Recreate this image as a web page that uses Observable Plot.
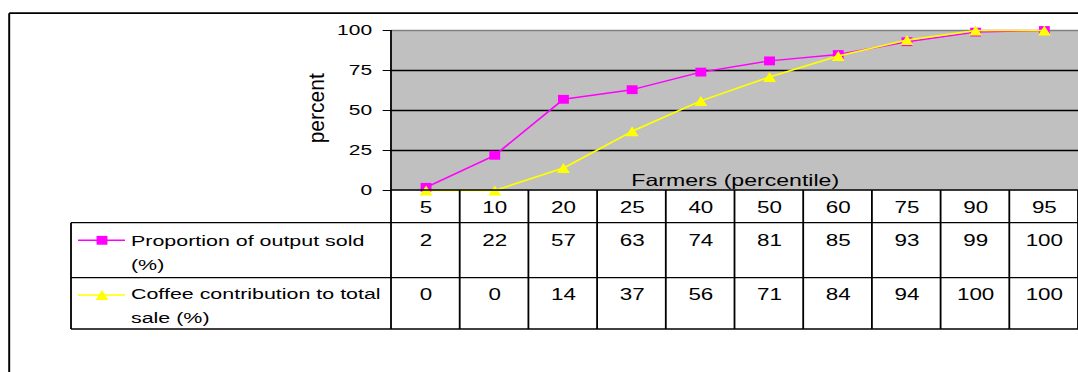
<!DOCTYPE html>
<html>
<head>
<meta charset="utf-8">
<script src="https://cdn.jsdelivr.net/npm/d3@7"></script>
<script src="https://cdn.jsdelivr.net/npm/@observablehq/plot@0.6"></script>
<style>
  body { margin: 0; background: #fff; }
  #chart { position: relative; width: 1078px; height: 372px; overflow: hidden; background: #fff; }
</style>
</head>
<body>
<div id="chart"></div>
<script>
// ---- data ----
const percentiles = ["5", "10", "20", "25", "40", "50", "60", "75", "90", "95"];
const outputSold = [2, 22, 57, 63, 74, 81, 85, 93, 99, 100];
const coffeeShare = [0, 0, 14, 37, 56, 71, 84, 94, 100, 100];
const yTicks = [0, 25, 50, 75, 100];
const seriesLabels = ["Proportion of output sold\n(%)", "Coffee contribution to total\nsale (%)"];
const seriesColors = ["#ff00ff", "#ffff00"];
const xTitle = "Farmers (percentile)";
const yTitle = "percent";

// ---- layout (the whole picture is horizontally stretched, like the original) ----
const SX = 1.4;
const W = 1078 / SX;
const H = 372;
const FONT = "'Liberation Sans', Arial, Helvetica, sans-serif";

const rows = percentiles.map((p, i) => ({p, sold: outputSold[i], coffee: coffeeShare[i]}));

const squareSym = {draw(ctx, size) { const r = Math.sqrt(size / Math.PI); const w = r * 0.81, h = r * 0.92; ctx.moveTo(-w, -h); ctx.lineTo(w, -h); ctx.lineTo(w, h); ctx.lineTo(-w, h); ctx.closePath(); }};
const triangleSym = {draw(ctx, size) { const r = Math.sqrt(size / Math.PI); const w = r * 0.92, h = r; ctx.moveTo(0, -h); ctx.lineTo(w, h); ctx.lineTo(-w, h); ctx.closePath(); }};

const plot = Plot.plot({
  width: W,
  height: H,
  marginLeft: 391 / SX,
  marginRight: 0,
  marginTop: 30,
  marginBottom: 182,
  style: {fontFamily: FONT, fontSize: "15px", color: "#000", background: "transparent", overflow: "visible", transform: `scaleX(${SX})`, transformOrigin: "0 0", maxWidth: "none"},
  x: {type: "band", domain: percentiles, padding: 0, axis: null, round: false},
  y: {domain: [0, 100], ticks: yTicks, tickSize: 6, tickPadding: 8, label: null, tickFormat: d => String(d)},
  marks: [
    Plot.frame({fill: "#c0c0c0", stroke: "none"}),
    Plot.ruleY(yTicks.filter(d => d > 0 && d < 100), {stroke: "#000", strokeWidth: 1.3}),
    Plot.ruleY([100], {stroke: "#808080", strokeWidth: 1.3}),
    Plot.text([xTitle], {frameAnchor: "bottom", lineAnchor: "bottom", dy: -4.5, fontSize: 16.5, fill: "#000"}),
    Plot.line(rows, {x: "p", y: "sold", stroke: seriesColors[0], strokeWidth: 1.4}),
    Plot.dot(rows, {x: "p", y: "sold", symbol: squareSym, fill: seriesColors[0], r: 4.8}),
    Plot.line(rows, {x: "p", y: "coffee", stroke: seriesColors[1], strokeWidth: 1.6}),
    Plot.dot(rows, {x: "p", y: "coffee", symbol: triangleSym, fill: seriesColors[1], r: 5}),
    Plot.text(rows, {x: "p", text: "p", frameAnchor: "bottom", lineAnchor: "bottom", dy: 22.3, fontSize: 16, fill: "#000"}),
    Plot.text(rows, {x: "p", text: d => String(d.sold), frameAnchor: "bottom", lineAnchor: "bottom", dy: 55.5, fontSize: 16, fill: "#000"}),
    Plot.text(rows, {x: "p", text: d => String(d.coffee), frameAnchor: "bottom", lineAnchor: "bottom", dy: 109.3, fontSize: 16, fill: "#000"})
  ]
});

document.getElementById("chart").appendChild(plot);

// ---- data table grid, legend keys, outer border and y title ----
const xs = plot.scale("x");
const ys = plot.scale("y");
const svg = d3.select(plot);
const g = svg.append("g").attr("stroke", "#000").attr("fill", "none");
const left = xs.range[0], right = xs.range[1];
const y0 = ys.apply(0), yTop = ys.apply(100);
const rowLines = [y0, 222.7, 277.7, 329];
const legendLeft = 71 / SX;

// horizontal lines
g.append("line").attr("x1", left).attr("x2", right + 2).attr("y1", y0).attr("y2", y0).attr("stroke-width", 1.3);
rowLines.slice(1).forEach(y => g.append("line").attr("x1", legendLeft).attr("x2", right + 2).attr("y1", y).attr("y2", y).attr("stroke-width", 1.3));
// vertical lines
g.append("line").attr("x1", left).attr("x2", left).attr("y1", yTop).attr("y2", rowLines[3]).attr("stroke-width", 1.3);
g.append("line").attr("x1", legendLeft).attr("x2", legendLeft).attr("y1", rowLines[1]).attr("y2", rowLines[3]).attr("stroke-width", 1.3);
percentiles.slice(1).forEach(p => {
  const x = xs.apply(p);
  g.append("line").attr("x1", x).attr("x2", x).attr("y1", y0).attr("y2", rowLines[3]).attr("stroke-width", 1.3);
});
g.append("line").attr("x1", right).attr("x2", right).attr("y1", y0).attr("y2", rowLines[3]).attr("stroke-width", 1.3);

// outer chart border
g.append("line").attr("x1", 9.2 / SX).attr("x2", W + 5).attr("y1", 13.2).attr("y2", 13.2).attr("stroke-width", 1.7);
g.append("line").attr("x1", 9.2 / SX).attr("x2", 9.2 / SX).attr("y1", 13.2).attr("y2", H + 5).attr("stroke-width", 1.4);

// legend keys inside the table
const keyY = [240.3, 295];
const keyX1 = 78 / SX, keyX2 = 125 / SX, keyXm = 102 / SX;
const textX = 131 / SX;
const baselines = [[246.5, 270.5], [299.5, 323]];
[squareSym, triangleSym].forEach((sym, i) => {
  svg.append("line").attr("x1", keyX1).attr("x2", keyX2).attr("y1", keyY[i]).attr("y2", keyY[i])
    .attr("stroke", seriesColors[i]).attr("stroke-width", i ? 1.6 : 1.4);
  svg.append("path").attr("d", d3.symbol(sym, (i ? 5 : 4.8) ** 2 * Math.PI)())
    .attr("transform", `translate(${keyXm},${keyY[i]})`).attr("fill", seriesColors[i]);
  const t = svg.append("text").attr("font-family", FONT).attr("font-size", 15.3).attr("fill", "#000").attr("text-anchor", "start");
  seriesLabels[i].split("\n").forEach((line, j) => {
    t.append("tspan").attr("x", textX).attr("y", baselines[i][j]).text(line);
  });
});

// y title
const k = 0.77;
svg.append("text")
  .attr("font-family", FONT).attr("font-size", 21).attr("fill", "#000")
  .attr("text-anchor", "middle")
  .attr("transform", `translate(231.6,108.3) scale(${k},1) rotate(-90)`)
  .text(yTitle);
</script>
</body>
</html>
